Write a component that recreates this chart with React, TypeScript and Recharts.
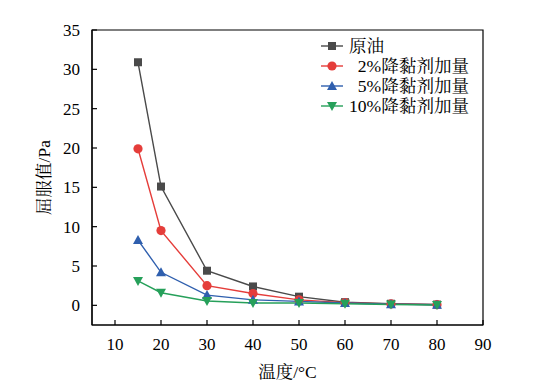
import React from 'react'
import { LineChart, Line, XAxis, YAxis, Legend, ReferenceArea } from 'recharts'

const temps = [15, 20, 30, 40, 50, 60, 70, 80]
const crude = [30.9, 15.1, 4.4, 2.4, 1.1, 0.4, 0.2, 0.1]
const dose2 = [19.9, 9.5, 2.5, 1.5, 0.7, 0.35, 0.18, 0.08]
const dose5 = [8.3, 4.2, 1.3, 0.7, 0.5, 0.3, 0.15, 0.07]
const dose10 = [3.1, 1.6, 0.55, 0.3, 0.3, 0.2, 0.1, 0.05]
const xTicks = [10, 20, 30, 40, 50, 60, 70, 80, 90]
const yTicks = [0, 5, 10, 15, 20, 25, 30, 35]

const FONT = "'Liberation Serif', 'Noto Serif CJK SC', 'Noto Sans CJK SC', serif"

type Shape = 'square' | 'circle' | 'up' | 'down'

const series: { key: string; name: string; color: string; shape: Shape }[] = [
  { key: 'crude', name: '原油', color: '#4a4a4a', shape: 'square' },
  { key: 'dose2', name: '  2%降黏剂加量', color: '#e53d3a', shape: 'circle' },
  { key: 'dose5', name: '  5%降黏剂加量', color: '#2f5fae', shape: 'up' },
  { key: 'dose10', name: '10%降黏剂加量', color: '#26a05a', shape: 'down' },
]

const data = temps.map((t, i) => ({
  t,
  crude: crude[i],
  dose2: dose2[i],
  dose5: dose5[i],
  dose10: dose10[i],
}))

function Marker({ cx, cy, shape, color }: { cx: number; cy: number; shape: Shape; color: string }) {
  if (cx == null || cy == null) return null
  if (shape === 'square') return <rect x={cx - 4} y={cy - 4} width={8} height={8} fill={color} />
  if (shape === 'circle') return <circle cx={cx} cy={cy} r={4.6} fill={color} />
  if (shape === 'up')
    return <polygon points={`${cx},${cy - 5} ${cx - 5},${cy + 4} ${cx + 5},${cy + 4}`} fill={color} />
  return <polygon points={`${cx},${cy + 5} ${cx - 5},${cy - 4} ${cx + 5},${cy - 4}`} fill={color} />
}

const LegendBox = () => (
  <svg width={175} height={84} style={{ display: 'block' }}>
    {series.map((s, i) => {
      const y = 10 + i * 20
      return (
        <g key={s.key}>
          <line x1={2} x2={24} y1={y} y2={y} stroke={s.color} strokeWidth={1.4} />
          <Marker cx={13} cy={y} shape={s.shape} color={s.color} />
          <text
            x={30}
            y={y + 6}
            fontSize={17.6}
            fontFamily={FONT}
            fill="#000"
            style={{ whiteSpace: 'pre' }}
          >
            {s.name}
          </text>
        </g>
      )
    })}
  </svg>
)

export default function App() {
  return (
    <div style={{ position: 'absolute', left: 0, top: 0 }}>
      <LineChart
        width={533}
        height={385}
        data={data}
        margin={{ top: 30, right: 50, bottom: 0, left: 0 }}
        style={{ fontFamily: FONT }}
      >
        <XAxis
          dataKey="t"
          type="number"
          domain={[5, 90]}
          ticks={xTicks}
          height={60}
          tickSize={-5}
          tickMargin={18}
          axisLine={{ stroke: '#000', strokeWidth: 1.2 }}
          tickLine={{ stroke: '#000', strokeWidth: 1.2 }}
          tick={{ fill: '#000', fontSize: 17, fontFamily: FONT }}
          label={{ value: '温度/°C', position: 'insideBottom', offset: 7, fill: '#000', fontSize: 17.5, fontFamily: FONT }}
        />
        <YAxis
          type="number"
          domain={[-2.5, 35]}
          ticks={yTicks}
          width={92}
          tickSize={-5}
          tickMargin={17}
          axisLine={{ stroke: '#000', strokeWidth: 1.2 }}
          tickLine={{ stroke: '#000', strokeWidth: 1.2 }}
          tick={{ fill: '#000', fontSize: 17, fontFamily: FONT }}
          label={{ value: '屈服值/Pa', angle: -90, position: 'center', dx: -2, fill: '#000', fontSize: 17.5, fontFamily: FONT }}
        />
        <ReferenceArea x1={5} x2={90} y1={-2.5} y2={35} fill="none" stroke="#000" strokeWidth={1.2} />
        {series.map((s) => (
          <Line
            key={s.key}
            dataKey={s.key}
            name={s.name}
            stroke={s.color}
            strokeWidth={1.4}
            isAnimationActive={false}
            dot={(p: any) => <Marker key={`${s.key}-${p.index}`} cx={p.cx} cy={p.cy} shape={s.shape} color={s.color} />}
            activeDot={false}
          />
        ))}
        <Legend
          layout="vertical"
          align="center"
          verticalAlign="middle"
          wrapperStyle={{ left: 319, top: 36, width: 175 }}
          content={() => <LegendBox />}
        />
      </LineChart>
    </div>
  )
}
